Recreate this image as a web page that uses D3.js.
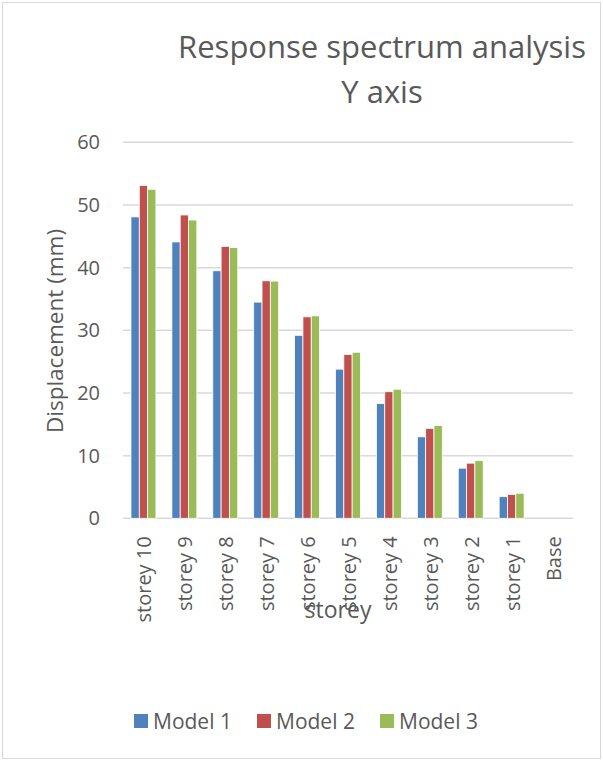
<!DOCTYPE html>
<html>
<head>
<meta charset="utf-8">
<script src="https://cdn.jsdelivr.net/npm/d3@7"></script>
<style>
  html, body { margin: 0; padding: 0; background: #fff; }
  svg { display: block; font-family: "Open Sans", "Noto Sans", sans-serif; }
</style>
</head>
<body>
<svg id="chart" width="603" height="761"></svg>
<script>
// Storey categories, top floor first
const categories = ["storey 10", "storey 9", "storey 8", "storey 7", "storey 6",
                    "storey 5", "storey 4", "storey 3", "storey 2", "storey 1", "Base"];
const seriesNames = ["Model 1", "Model 2", "Model 3"];
// Displacement (mm) per storey for each model
const model1 = [48.1, 44.1, 39.5, 34.5, 29.2, 23.8, 18.3, 13.0, 8.0, 3.45, 0];
const model2 = [53.1, 48.4, 43.4, 37.9, 32.15, 26.15, 20.2, 14.35, 8.8, 3.8, 0];
const model3 = [52.5, 47.6, 43.2, 37.85, 32.3, 26.5, 20.6, 14.8, 9.2, 4.0, 0];
const yTicks = [0, 10, 20, 30, 40, 50, 60];
const colors = ["#4F81BD", "#C0504D", "#9BBB59"];

const svg = d3.select("#chart");
const W = 603, H = 761;
const plot = { left: 123, right: 573, top: 142.3, bottom: 518.3 };
const textColor = "#595959";

// chart frame
svg.append("rect")
  .attr("x", 2.5).attr("y", 2.5).attr("width", W - 5).attr("height", H - 5)
  .attr("fill", "#fff").attr("stroke", "#d9d9d9").attr("stroke-width", 1);

const x = d3.scaleBand().domain(categories).range([plot.left, plot.right]).padding(0);
const bw = x.bandwidth();
const xs = d3.scaleBand().domain(seriesNames).range([bw * 0.195, bw * 0.805]).padding(0);
const y = d3.scaleLinear().domain([0, 60]).range([plot.bottom, plot.top]);

// horizontal gridlines
svg.append("g").selectAll("line").data(yTicks).join("line")
  .attr("x1", plot.left).attr("x2", plot.right)
  .attr("y1", d => y(d)).attr("y2", d => y(d))
  .attr("stroke", "#d9d9d9").attr("stroke-width", 1.5);

// y tick labels
const yAxis = d3.axisLeft(y).tickValues(yTicks).tickSize(0).tickPadding(0);
const gy = svg.append("g").attr("transform", `translate(${plot.left - 23},0)`).call(yAxis);
gy.select(".domain").remove();
gy.selectAll("text")
  .attr("fill", textColor).style("font-size", "20px")
  .style("font-family", "'Open Sans', sans-serif");

// bars
const data = [model1, model2, model3];
const groups = svg.append("g").selectAll("g").data(seriesNames).join("g")
  .attr("fill", (d, i) => colors[i]);
groups.selectAll("rect")
  .data((s, si) => categories.map((c, ci) => ({ c, v: data[si][ci], s })))
  .join("rect")
  .attr("x", d => x(d.c) + xs(d.s))
  .attr("width", xs.bandwidth())
  .attr("y", d => y(d.v))
  .attr("height", d => y(0) - y(d.v))
  .attr("stroke", "#fff").attr("stroke-width", 0.8);

// x tick labels, rotated
const xAxis = d3.axisBottom(x).tickSize(0).tickPadding(0);
const gx = svg.append("g").attr("transform", `translate(0,${plot.bottom})`).call(xAxis);
gx.select(".domain").remove();
gx.selectAll("text")
  .attr("fill", textColor).style("font-size", "20px")
  .style("font-family", "'Open Sans', sans-serif")
  .attr("text-anchor", "end")
  .attr("dy", null).attr("y", 0)
  .attr("transform", "translate(8,18) rotate(-90)");

// axis titles
svg.append("text")
  .attr("transform", `translate(54,331) rotate(-90)`)
  .attr("text-anchor", "middle").attr("dominant-baseline", "central")
  .attr("fill", textColor).style("font-size", "22.5px")
  .text("Displacement (mm)");

svg.append("text")
  .attr("x", 338).attr("y", 609)
  .attr("text-anchor", "middle").attr("dominant-baseline", "central")
  .attr("fill", textColor).style("font-size", "23px")
  .text("storey");

// title
const title = svg.append("text").attr("text-anchor", "middle")
  .attr("fill", textColor).style("font-size", "31px");
title.append("tspan").attr("x", 382).attr("y", 58).text("Response spectrum analysis");
title.append("tspan").attr("x", 382).attr("y", 103).text("Y axis");

// legend
const legendX = [134, 257, 380];
const lg = svg.append("g").selectAll("g").data(seriesNames).join("g")
  .attr("transform", (d, i) => `translate(${legendX[i]},721)`);
lg.append("rect").attr("x", 0).attr("y", -7).attr("width", 14).attr("height", 14)
  .attr("fill", (d, i) => colors[i]);
lg.append("text").attr("x", 19).attr("y", 0).attr("dominant-baseline", "central")
  .attr("fill", textColor).style("font-size", "21px").text(d => d);
</script>
</body>
</html>
